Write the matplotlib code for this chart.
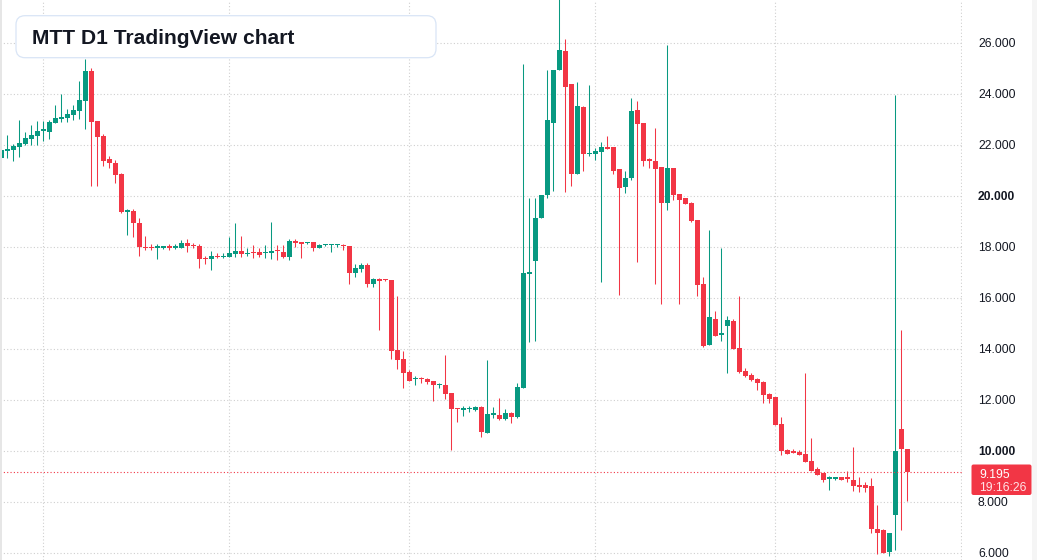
import matplotlib.pyplot as plt
from matplotlib.patches import FancyBboxPatch, Rectangle
from matplotlib.transforms import blended_transform_factory

opens = [21.52, 21.79, 21.82, 21.93, 22.04, 22.25, 22.38, 22.58, 22.54, 22.89,
         23.03, 23.08, 23.20, 23.35, 23.74, 24.92, 22.95, 22.36, 21.46, 21.31,
         20.88, 19.40, 19.42, 18.95, 17.98, 18.00, 17.99, 17.99, 18.00, 17.99,
         17.99, 18.17, 18.09, 18.05, 17.58, 17.56, 17.67, 17.63, 17.63, 17.75,
         17.86, 17.75, 17.78, 17.83, 17.79, 17.78, 17.87, 17.82, 17.63, 18.25,
         18.21, 18.18, 18.21, 17.99, 18.08, 18.08, 18.09, 18.10, 18.04, 16.99,
         17.15, 17.29, 16.56, 16.75, 16.72, 16.70, 13.96, 13.61, 13.10, 12.82,
         12.85, 12.84, 12.74, 12.60, 12.61, 12.27, 11.68, 11.62, 11.65, 11.62,
         11.72, 10.72, 11.44, 11.41, 11.25, 11.49, 11.33, 12.50, 16.97, 17.48,
         19.13, 20.06, 22.89, 24.95, 25.69, 24.41, 20.89, 23.50, 21.67, 21.67,
         21.75, 21.95, 21.93, 21.07, 20.38, 20.73, 23.39, 22.88, 21.43, 21.39,
         21.15, 19.75, 21.11, 20.09, 19.93, 19.75, 19.07, 16.56, 14.18, 15.19,
         14.58, 14.93, 15.11, 14.05, 13.15, 12.99, 12.84, 12.72, 12.25, 12.13,
         11.07, 10.05, 9.99, 9.97, 9.90, 9.62, 9.31, 9.15, 8.93, 8.93,
         8.98, 8.95, 8.89, 8.68, 8.68, 8.65, 6.97, 6.93, 6.04, 7.49,
         10.89, 10.10]
highs = [21.90, 22.41, 22.05, 22.99, 22.52, 22.80, 22.95, 22.95, 23.01, 23.58,
         24.00, 23.42, 23.58, 24.52, 25.37, 25.02, 22.97, 22.44, 21.57, 21.41,
         20.92, 19.50, 19.52, 19.14, 18.44, 18.14, 18.14, 18.05, 18.14, 18.14,
         18.29, 18.31, 18.18, 18.12, 17.65, 17.86, 17.78, 17.79, 18.42, 18.95,
         18.44, 17.96, 18.10, 17.99, 18.10, 18.99, 18.10, 18.10, 18.33, 18.33,
         18.21, 18.21, 18.22, 18.14, 18.14, 18.14, 18.14, 18.14, 18.05, 17.33,
         17.37, 17.37, 16.78, 16.78, 16.75, 16.71, 16.08, 13.92, 13.18, 12.95,
         12.92, 12.88, 12.77, 12.68, 13.79, 12.27, 11.70, 11.78, 11.78, 11.78,
         11.78, 13.57, 11.73, 12.09, 11.65, 11.53, 12.67, 25.18, 19.92, 19.92,
         20.06, 24.95, 24.95, 28.00, 26.17, 24.41, 24.48, 23.54, 24.37, 21.91,
         22.13, 22.37, 21.93, 21.07, 20.99, 23.86, 23.74, 22.88, 21.50, 22.68,
         21.15, 25.93, 21.11, 20.09, 19.93, 19.79, 19.07, 16.85, 18.68, 15.50,
         17.97, 15.31, 15.19, 16.09, 13.27, 13.07, 12.86, 12.76, 12.29, 12.13,
         11.35, 10.09, 10.09, 10.05, 13.07, 10.52, 9.39, 9.15, 9.02, 9.01,
         8.98, 9.22, 10.18, 8.98, 8.78, 8.97, 7.91, 6.97, 6.81, 23.99,
         14.77, 10.10]
lows = [21.45, 21.52, 21.40, 21.54, 22.01, 22.01, 22.01, 22.17, 22.25, 22.89,
        22.93, 22.93, 23.01, 23.05, 22.65, 20.42, 20.42, 21.20, 21.10, 20.54,
        19.33, 18.50, 18.42, 17.67, 17.90, 17.90, 17.56, 17.94, 17.90, 17.94,
        17.99, 17.80, 17.98, 17.20, 17.33, 17.12, 17.57, 17.57, 17.63, 17.63,
        17.63, 17.66, 17.59, 17.62, 17.59, 17.56, 17.52, 17.58, 17.52, 18.03,
        17.59, 18.12, 17.86, 17.99, 18.05, 17.83, 18.03, 17.91, 16.56, 16.82,
        17.03, 16.44, 16.44, 14.76, 16.67, 13.62, 13.23, 12.48, 12.76, 12.60,
        12.68, 12.64, 11.97, 12.48, 12.05, 10.05, 11.15, 11.39, 11.54, 11.58,
        10.56, 10.72, 11.31, 11.22, 11.22, 11.11, 11.29, 12.50, 14.30, 14.33,
        19.13, 19.95, 20.22, 24.95, 20.18, 20.42, 20.89, 20.99, 21.59, 21.44,
        16.65, 21.87, 20.89, 16.13, 20.14, 20.64, 17.44, 21.20, 21.12, 16.58,
        15.79, 19.48, 19.87, 15.79, 19.71, 19.01, 16.10, 14.10, 14.18, 14.54,
        14.34, 13.08, 14.03, 13.08, 12.93, 12.76, 12.42, 11.91, 11.91, 11.05,
        9.87, 9.91, 9.95, 9.87, 9.59, 9.23, 9.08, 8.81, 8.48, 8.86,
        8.89, 8.78, 8.43, 8.41, 8.41, 6.78, 5.97, 6.00, 5.88, 6.12,
        6.90, 8.04]
closes = [21.82, 21.86, 21.97, 22.09, 22.27, 22.41, 22.56, 22.60, 22.90, 23.07,
          23.11, 23.23, 23.39, 23.78, 24.92, 22.93, 22.34, 21.40, 21.32, 20.85,
          19.39, 19.42, 18.95, 18.00, 17.96, 17.98, 18.00, 18.00, 17.99, 18.01,
          18.17, 18.06, 18.05, 17.56, 17.55, 17.66, 17.63, 17.66, 17.78, 17.86,
          17.74, 17.77, 17.76, 17.70, 17.81, 17.86, 17.85, 17.63, 18.25, 18.18,
          18.14, 18.20, 17.99, 18.09, 18.09, 18.10, 18.11, 18.04, 16.99, 17.18,
          17.31, 16.56, 16.75, 16.68, 16.70, 13.93, 13.58, 13.07, 12.76, 12.84,
          12.82, 12.72, 12.60, 12.62, 12.25, 11.66, 11.64, 11.70, 11.67, 11.72,
          10.76, 11.45, 11.46, 11.25, 11.49, 11.33, 12.51, 16.99, 16.99, 19.15,
          20.06, 23.01, 24.95, 25.74, 24.30, 20.89, 23.53, 21.67, 21.69, 21.78,
          21.93, 21.87, 20.99, 20.34, 20.72, 23.35, 22.85, 21.40, 21.40, 21.08,
          19.75, 21.11, 20.07, 19.87, 19.71, 19.03, 16.54, 14.14, 15.27, 14.54,
          14.65, 15.15, 14.03, 13.12, 12.97, 12.81, 12.69, 12.22, 12.07, 11.05,
          10.03, 9.91, 9.95, 9.87, 9.59, 9.23, 9.08, 8.89, 8.95, 8.95,
          8.89, 8.93, 8.65, 8.61, 8.58, 6.94, 6.81, 6.00, 6.81, 10.03,
          10.08, 9.195]

price_ticks = [6, 8, 10, 12, 14, 16, 18, 20, 22, 24, 26]
bold_ticks = [10, 20]
month_starts = [7, 38, 68, 99, 129, 160]
last_price = "9.195"
countdown = "19:16:26"
title = "MTT D1 TradingView chart"

UP = '#089981'
DOWN = '#F23645'
GRID = '#cfcfcf'
TEXT = '#131722'
DOTS = (0, (1, 2))

W, H = 1037, 560
fig = plt.figure(figsize=(W / 100, H / 100), dpi=100)
fig.patch.set_facecolor('white')
ax = fig.add_axes([0, 0, 962 / W, 1])
ax.set_facecolor('white')
for s in ax.spines.values():
    s.set_visible(False)

xs = list(range(len(opens)))
cols = [UP if c >= o else DOWN for o, c in zip(opens, closes)]
bottoms = [min(o, c) for o, c in zip(opens, closes)]
heights = [max(abs(c - o), 0.045) for o, c in zip(opens, closes)]

# grid
ax.set_xticks(month_starts)
ax.set_yticks(price_ticks)
ax.grid(True, color=GRID, linestyle=DOTS, linewidth=0.8)
ax.tick_params(left=False, bottom=False, labelleft=False, labelbottom=False)

ax.vlines(xs, lows, highs, colors=cols, linewidth=0.75, zorder=2)
ax.bar(xs, heights, bottom=bottoms, width=0.78, color=cols, linewidth=0, zorder=3)

# last price line
ax.axhline(float(last_price), color=DOWN, linestyle=DOTS, linewidth=0.8, zorder=4)

ax.set_xlim(-1.3 / 6, (962 - 1.3) / 6)
ax.set_ylim(20 - (560 - 196.3) / 25.5, 20 + 196.3 / 25.5)

# price scale on the right
tr = blended_transform_factory(ax.transAxes, ax.transData)
xl = 978 / 962
for p in price_ticks:
    ax.text(xl, p - 0.14, '%d.000' % p, transform=tr, ha='left', va='baseline',
            fontsize=8.7, color=TEXT, family='Liberation Sans',
            fontweight='bold' if p in bold_ticks else 'normal', clip_on=False)

px = fig.dpi_scale_trans
fig.patches.append(Rectangle((0, 0), 0.017, H / 100, transform=px,
                             facecolor='#e6e6e6', edgecolor='none'))
fig.patches.append(Rectangle((10.32, 0), 0.05, H / 100, transform=px,
                             facecolor='#f5f5f5', edgecolor='none'))

# last price badge
fig.patches.append(FancyBboxPatch((9.715, (H - 495) / 100), 0.60, 0.305, transform=px,
                                  boxstyle='round,pad=0,rounding_size=0.02',
                                  facecolor=DOWN, edgecolor='none'))
fig.text(979 / W, 1 - 477.5 / H, last_price, color='white', fontsize=8.7,
         family='Liberation Sans', va='baseline')
fig.text(979 / W, 1 - 491 / H, countdown, color='#ffe3e6', fontsize=8.7,
         family='Liberation Sans', va='baseline')

# title box
fig.patches.append(FancyBboxPatch((0.16, (H - 57.7) / 100), 4.20, 0.42, transform=px,
                                  boxstyle='round,pad=0,rounding_size=0.09',
                                  facecolor='white', edgecolor='#d9e5f6', linewidth=0.9,
                                  zorder=10))
fig.text(32 / W, 1 - 44.3 / H, title, color=TEXT, fontsize=15.1, fontweight='bold',
         family='Liberation Sans', va='baseline', zorder=11)

fig.savefig('out.png', dpi=100)
